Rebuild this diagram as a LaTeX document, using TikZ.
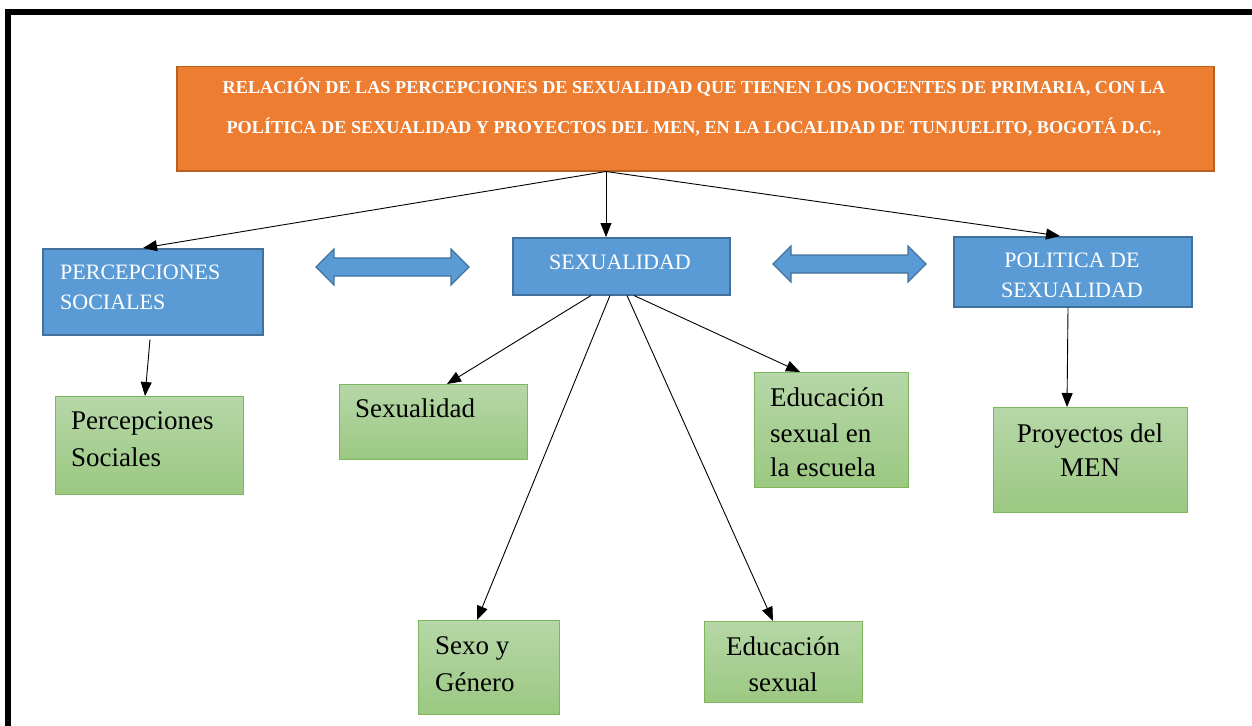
\documentclass[tikz,border=0pt]{standalone}
\usepackage{fontspec}
\setmainfont{Liberation Serif}
\usetikzlibrary{arrows.meta}
\definecolor{orfill}{HTML}{ED7D31}
\definecolor{ordraw}{HTML}{B8601F}
\definecolor{blfill}{HTML}{5B9BD5}
\definecolor{bldraw}{HTML}{41719C}
\definecolor{grtop}{HTML}{B6D7A8}
\definecolor{grbot}{HTML}{9BC881}
\definecolor{grdraw}{HTML}{7DB65B}
\tikzset{
  box/.style={anchor=north west, inner sep=0pt},
  titlebox/.style={box, fill=orfill, draw=ordraw, line width=1.5pt},
  bluebox/.style={box, fill=blfill, draw=bldraw, line width=1.5pt},
  greenbox/.style={box, top color=grtop, bottom color=grbot, draw=grdraw, line width=1pt},
  ttxt/.style={anchor=base, text=white, font=\fontsize{18.2}{20}\selectfont\bfseries},
  btxt/.style={text=white, font=\fontsize{22}{26}\selectfont, inner sep=0pt},
  gtxt/.style={text=black, font=\fontsize{27}{32}\selectfont, inner sep=0pt},
  conn/.style={draw=black, line width=0.9pt, -{Triangle[length=14pt,width=11pt]}},
  dblarr/.style={fill=blfill, draw=bldraw, line width=1.2pt, line join=miter},
  frame/.style={line width=6pt, draw=black}
}
\begin{document}
\begin{tikzpicture}[x=1pt,y=-1pt]
\useasboundingbox (0,0) rectangle (1252,725);
\draw[frame] (8,728) -- (8,12) -- (1256,12);

% title
\node[titlebox, minimum width=1037pt, minimum height=104pt] (title) at (176,66) {};
\node[ttxt] (t1) at (694,93) {RELACIÓN DE LAS PERCEPCIONES DE SEXUALIDAD QUE TIENEN LOS DOCENTES DE PRIMARIA, CON LA};
\node[ttxt] (t2) at (694,133) {POLÍTICA DE SEXUALIDAD Y PROYECTOS DEL MEN, EN LA LOCALIDAD DE TUNJUELITO, BOGOTÁ D.C.,};
\coordinate (hub) at ([xshift=430pt]title.south west);

% blue boxes
\node[bluebox, minimum width=220pt, minimum height=86pt] (p1) at (42,248) {};
\node[btxt, anchor=base west] (p1a) at (60,279) {PERCEPCIONES};
\node[btxt, anchor=base west] (p1b) at (60,309) {SOCIALES};

\node[bluebox, minimum width=217pt, minimum height=57pt] (s) at (512,237) {};
\node[btxt, anchor=base] (sa) at (620,269) {SEXUALIDAD};

\node[bluebox, minimum width=238pt, minimum height=70pt] (pol) at (953,236) {};
\node[btxt, anchor=base] (pola) at (1072,267) {POLITICA DE};
\node[btxt, anchor=base] (polb) at (1072,297) {SEXUALIDAD};

% double arrows
\draw[dblarr] (316,267) -- (334,249) -- (334,258) -- (451,258) -- (451,249) -- (469,267) -- (451,285) -- (451,276) -- (334,276) -- (334,285) -- cycle;
\begin{scope}[shift={(457,-3)}]
\draw[dblarr] (316,267) -- (334,249) -- (334,258) -- (451,258) -- (451,249) -- (469,267) -- (451,285) -- (451,276) -- (334,276) -- (334,285) -- cycle;
\end{scope}

% green boxes
\node[greenbox, minimum width=188pt, minimum height=98pt] (g1) at (55,396) {};
\node[gtxt, anchor=base west] (g1a) at (71,429) {Percepciones};
\node[gtxt, anchor=base west] (g1b) at (71,466) {Sociales};

\node[greenbox, minimum width=188pt, minimum height=75pt] (g2) at (339,384) {};
\node[gtxt, anchor=base west] (g2a) at (355,417) {Sexualidad};

\node[greenbox, minimum width=154pt, minimum height=115pt] (g3) at (754,372) {};
\node[gtxt, anchor=base west] (g3a) at (770,406) {Educación};
\node[gtxt, anchor=base west] (g3b) at (770,442) {sexual en};
\node[gtxt, anchor=base west] (g3c) at (770,476) {la escuela};

\node[greenbox, minimum width=194pt, minimum height=105pt] (g4) at (993,407) {};
\node[gtxt, anchor=base] (g4a) at (1090,442) {Proyectos del};
\node[gtxt, anchor=base] (g4b) at (1090,476) {MEN};

\node[greenbox, minimum width=141pt, minimum height=94pt] (g5) at (418,620) {};
\node[gtxt, anchor=base west] (g5a) at (435,654) {Sexo y};
\node[gtxt, anchor=base west] (g5b) at (435,691) {Género};

\node[greenbox, minimum width=158pt, minimum height=81pt] (g6) at (704,621) {};
\node[gtxt, anchor=base] (g6a) at (783,655) {Educación};
\node[gtxt, anchor=base] (g6b) at (783,691) {sexual};

% connectors
\draw[conn] (hub) -- ([xshift=101pt]p1.north west);
\draw[conn] (hub) -- ([xshift=94pt]s.north west);
\draw[conn] (hub) -- ([xshift=107pt]pol.north west);
\draw[conn] ([xshift=108pt,yshift=-4pt]p1.south west) -- ([xshift=90pt]g1.north west);
\draw[conn] ([xshift=79pt]s.south west) -- ([xshift=108pt]g2.north west);
\draw[conn] ([xshift=98pt]s.south west) -- ([xshift=59pt]g5.north west);
\draw[conn] ([xshift=115pt]s.south west) -- ([xshift=69pt]g6.north west);
\draw[conn] ([xshift=122pt]s.south west) -- ([xshift=46pt]g3.north west);
\draw[conn] ([xshift=115pt]pol.south west) -- ([xshift=74pt]g4.north west);
\end{tikzpicture}
\end{document}
